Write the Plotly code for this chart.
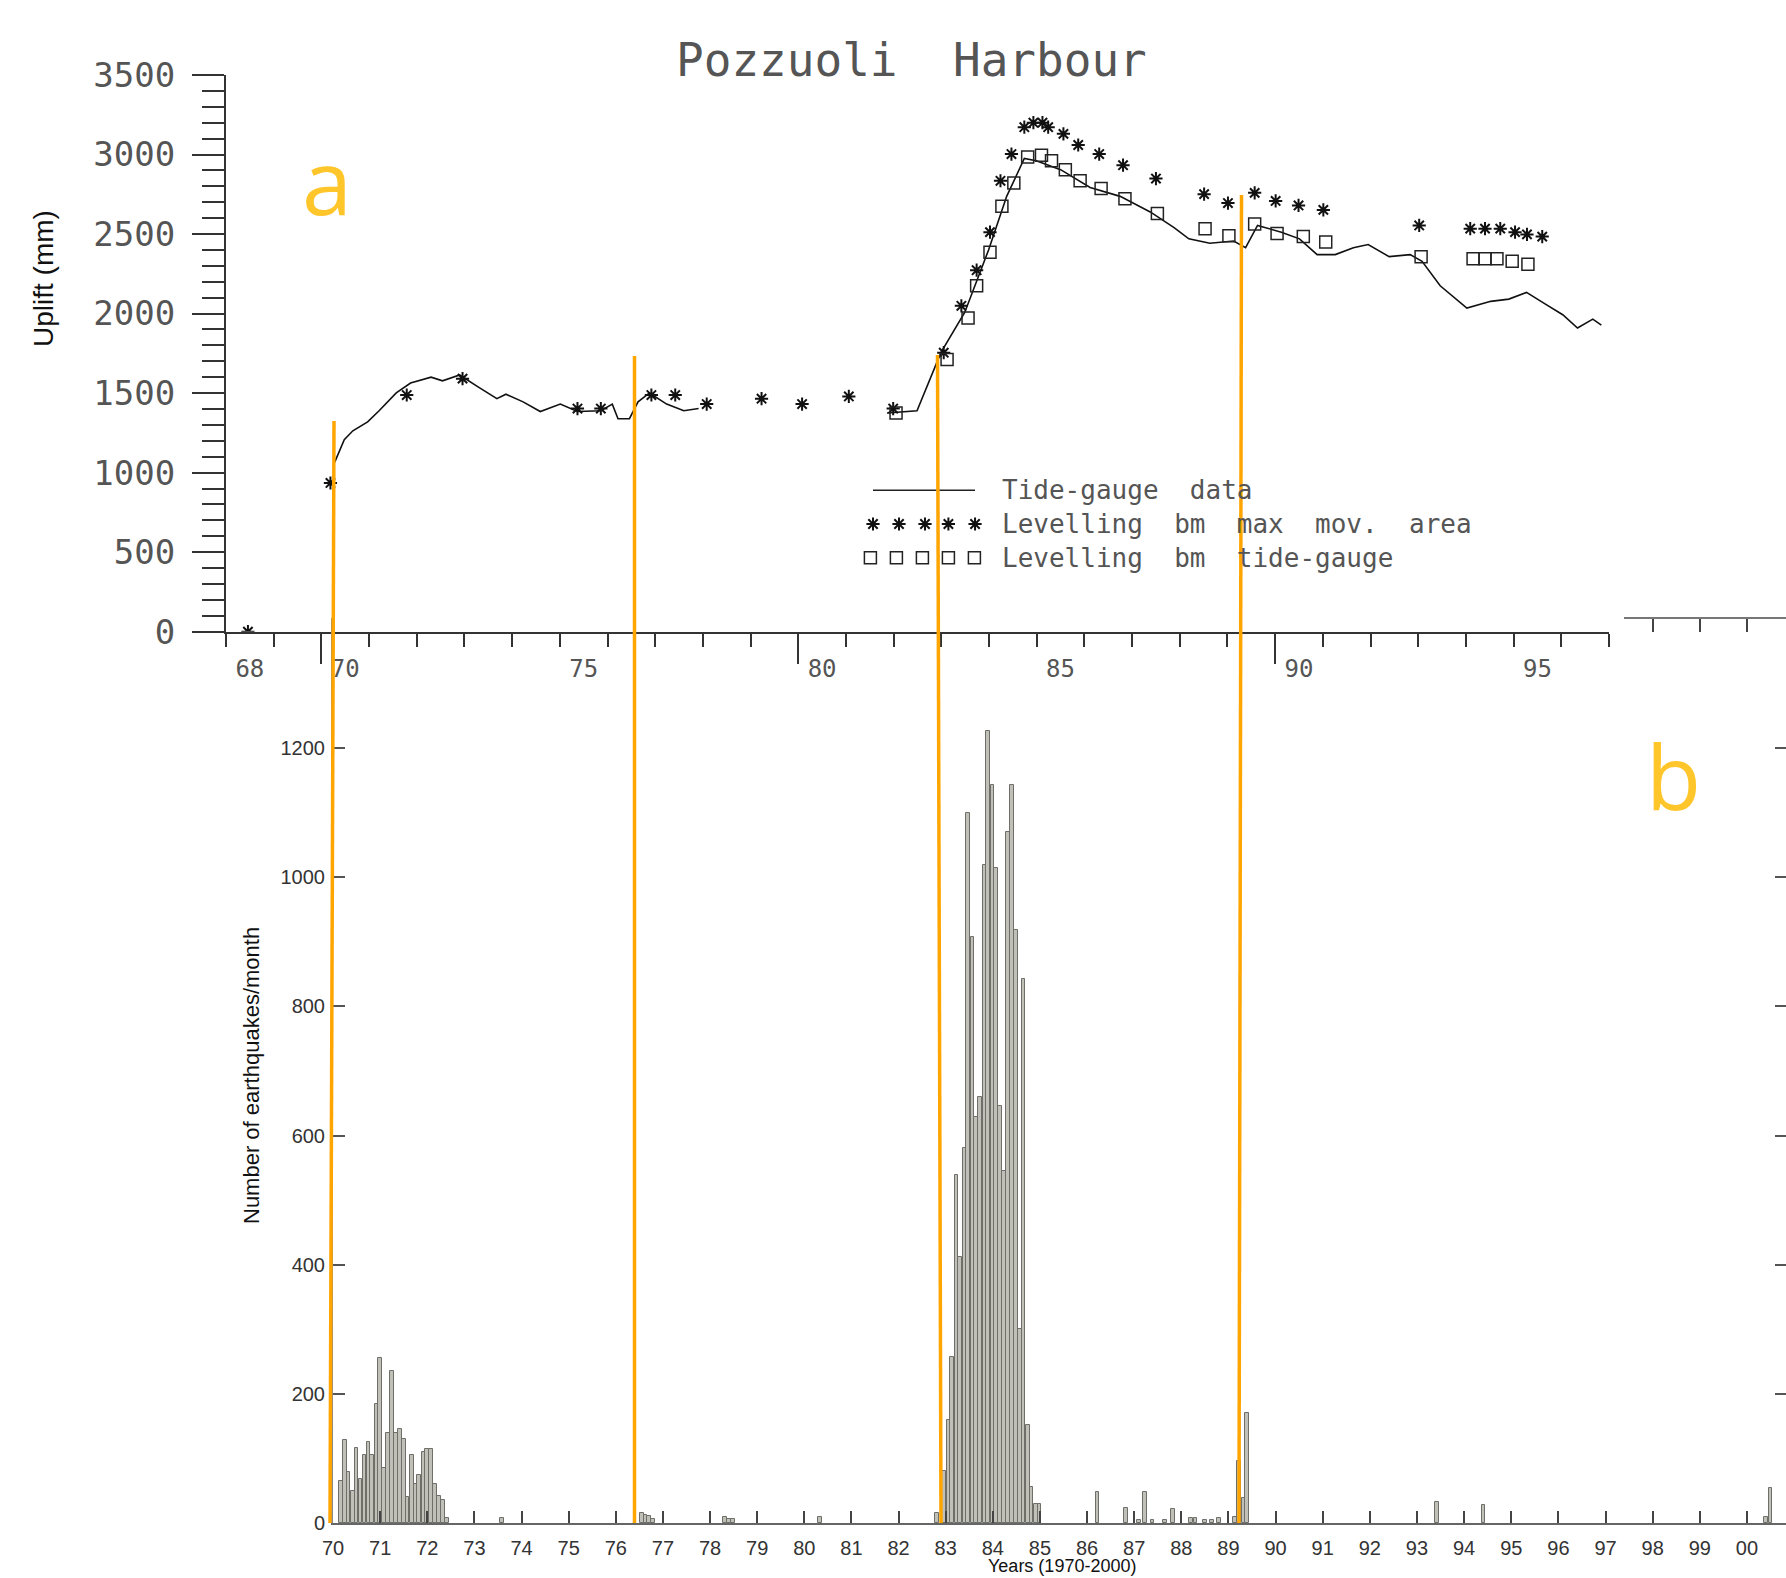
import plotly.graph_objects as go

W, H = 1786, 1578

# ---------------- Panel a : Pozzuoli Harbour uplift ----------------
tide_year = [70.28, 70.48, 70.66, 70.97, 71.21, 71.57, 71.87, 72.30, 72.54, 72.90, 73.26,
             73.68, 73.87, 74.23, 74.59, 75.01, 75.37, 75.86, 76.10, 76.22, 76.46, 76.64,
             76.88, 77.24, 77.60, 77.91, None,
             81.86, 82.49, 82.99, 83.49, 83.99, 84.37, 84.74, 84.99, 85.50, 86.12, 86.75,
             87.38, 87.88, 88.19, 88.63, 89.13, 89.38, 89.63, 90.13, 90.51, 90.88, 91.26,
             91.64, 91.95, 92.39, 92.83, 93.08, 93.46, 94.02, 94.52, 94.90, 95.27, 95.65,
             96.03, 96.34, 96.66, 96.84]
tide_mm = [1066, 1207, 1263, 1319, 1389, 1501, 1563, 1600, 1577, 1614, 1544,
           1465, 1493, 1445, 1384, 1431, 1384, 1389, 1431, 1339, 1339, 1445,
           1501, 1431, 1389, 1403, None,
           1375, 1389, 1754, 2007, 2400, 2737, 2975, 2961, 2905, 2793, 2737,
           2639, 2540, 2470, 2442, 2456, 2414, 2554, 2512, 2470, 2371, 2371,
           2414, 2434, 2358, 2371, 2329, 2175, 2035, 2077, 2091, 2133, 2063,
           1993, 1909, 1965, 1928]

star_year = [68.46, 70.19, 71.79, 72.96, 75.37, 75.86, 76.92, 77.42, 78.08, 79.23, 80.08,
             81.06, 81.99, 83.05, 83.42, 83.74, 84.02, 84.24, 84.47, 84.74, 84.93, 85.12,
             85.24, 85.56, 85.87, 86.31, 86.81, 87.50, 88.51, 89.01, 89.57, 90.01, 90.49,
             91.01, 93.02, 94.09, 94.40, 94.72, 95.03, 95.28, 95.60]
star_mm = [0, 935, 1488, 1591, 1403, 1403, 1488, 1488, 1431, 1465, 1431,
           1479, 1403, 1754, 2049, 2273, 2512, 2835, 3003, 3172, 3200, 3200,
           3172, 3130, 3060, 3003, 2933, 2849, 2751, 2695, 2759, 2708, 2680,
           2652, 2554, 2534, 2534, 2534, 2512, 2498, 2484]

square_year = [82.05, 83.12, 83.56, 83.74, 84.02, 84.27, 84.52, 84.81, 85.10, 85.31, 85.60,
               85.91, 86.35, 86.85, 87.53, 88.53, 89.03, 89.57, 90.04, 90.59, 91.06, 93.06,
               94.15, 94.40, 94.65, 94.97, 95.30]
square_mm = [1375, 1712, 1973, 2175, 2386, 2675, 2821, 2984, 2995, 2961, 2905,
             2835, 2787, 2722, 2630, 2534, 2490, 2563, 2504, 2484, 2450, 2358,
             2344, 2344, 2344, 2329, 2310]

top_tick_labels = ["68", "70", "75", "80", "85", "90", "95"]
top_tick_years = [68, 70, 75, 80, 85, 90, 95]

legend_texts = ["Tide-gauge  data", "Levelling  bm  max  mov.  area", "Levelling  bm  tide-gauge"]

# ---------------- Panel b : earthquakes per month ----------------
eq_year = [70.17, 70.25, 70.33, 70.42, 70.50, 70.58, 70.67, 70.75, 70.83, 70.92, 71.00,
           71.08, 71.17, 71.25, 71.33, 71.42, 71.50, 71.58, 71.67, 71.75, 71.83, 71.92,
           72.00, 72.08, 72.17, 72.25, 72.33, 72.42,
           73.58, 76.55, 76.63, 76.71, 76.79, 78.32, 78.40, 78.48, 80.33,
           82.81, 82.97, 83.06, 83.14, 83.23, 83.31, 83.40, 83.48, 83.57, 83.65, 83.73,
           83.82, 83.90, 83.99, 84.07, 84.15, 84.24, 84.32, 84.40, 84.49, 84.57, 84.65,
           84.74, 84.82, 84.91, 84.99,
           86.22, 86.83, 87.10, 87.23, 87.39, 87.66, 87.82, 88.20, 88.30, 88.50, 88.65,
           88.80, 89.14, 89.22, 89.32, 89.40,
           93.42, 94.41, 100.40, 100.50]
eq_count = [65, 128, 79, 49, 116, 68, 105, 125, 105, 185, 255,
            85, 140, 235, 140, 145, 130, 40, 105, 60, 75, 110,
            115, 115, 60, 42, 35, 8,
            8, 15, 13, 11, 6, 9, 6, 6, 10,
            15, 81, 159, 257, 539, 412, 581, 1099, 907, 629, 660,
            1019, 1227, 1143, 1014, 646, 545, 1070, 1143, 918, 300, 843,
            152, 56, 29, 29,
            48, 23, 5, 48, 4, 4, 22, 8, 8, 4, 4,
            8, 10, 96, 39, 170,
            33, 28, 10, 54]

bottom_tick_years = list(range(70, 101))
bottom_tick_labels = ["%02d" % (y % 100) for y in bottom_tick_years]
eq_ticks = [0, 200, 400, 600, 800, 1000, 1200]


def px(x):
    return x / W


def py(y):
    return 1 - y / H


# pixel geometry of the two panels
TOP_L, TOP_R, TOP_B, TOP_T = 226, 1609, 631.7, 75
BOT_L, BOT_B, BOT_T = 333, 1523, 618
BOT_PX_PER_YEAR = 47.13
BOT_PX_PER_UNIT = 0.6458
bot_xmax = 70 + (W - BOT_L) / BOT_PX_PER_YEAR
bot_ymax = (BOT_B - BOT_T) / BOT_PX_PER_UNIT

# legend frame (pixels)
LEG_L, LEG_R, LEG_TOP, LEG_BOT = 860, 990, 478, 570
LEG_FONT = 26
leg_rows_px = [524 - 1.3 * LEG_FONT, 524, 524 + 1.3 * LEG_FONT]
leg_rows = [(LEG_BOT - r) / (LEG_BOT - LEG_TOP) for r in leg_rows_px]

mono = "DejaVu Sans Mono"
sans = "Liberation Sans, Arial, sans-serif"

fig = go.Figure()

# panel a traces
fig.add_trace(go.Scatter(x=tide_year, y=tide_mm, mode="lines", connectgaps=False,
                         line=dict(color="#111111", width=1.6), xaxis="x", yaxis="y",
                         showlegend=False, hoverinfo="skip"))
fig.add_trace(go.Scatter(x=star_year, y=star_mm, mode="markers",
                         marker=dict(symbol="asterisk-open", size=11, color="#111111",
                                     line=dict(color="#111111", width=2)),
                         xaxis="x", yaxis="y", showlegend=False))
fig.add_trace(go.Scatter(x=square_year, y=square_mm, mode="markers",
                         marker=dict(symbol="square-open", size=12, color="#222222",
                                     line=dict(color="#222222", width=1.5)),
                         xaxis="x", yaxis="y", showlegend=False))
# label axis overlay
fig.add_trace(go.Scatter(x=[], y=[], xaxis="x3", yaxis="y", showlegend=False))

# legend glyphs (drawn in a small hidden frame)
fig.add_trace(go.Scatter(x=[0.10, 0.885], y=[leg_rows[0]] * 2, mode="lines",
                         line=dict(color="#222222", width=1.6), xaxis="x4", yaxis="y4",
                         showlegend=False, hoverinfo="skip"))
fig.add_trace(go.Scatter(x=[0.10, 0.30, 0.50, 0.68, 0.885], y=[leg_rows[1]] * 5,
                         mode="markers",
                         marker=dict(symbol="asterisk-open", size=11, color="#111111",
                                     line=dict(color="#111111", width=2)),
                         xaxis="x4", yaxis="y4", showlegend=False, hoverinfo="skip"))
fig.add_trace(go.Scatter(x=[0.08, 0.28, 0.48, 0.68, 0.88], y=[leg_rows[2]] * 5,
                         mode="markers",
                         marker=dict(symbol="square-open", size=12, color="#222222",
                                     line=dict(color="#222222", width=1.5)),
                         xaxis="x4", yaxis="y4", showlegend=False, hoverinfo="skip"))

# panel b traces
fig.add_trace(go.Bar(x=eq_year, y=eq_count, width=0.078,
                     marker=dict(color="#c0c0b8", line=dict(color="#6f6f6a", width=1)),
                     xaxis="x2", yaxis="y2", showlegend=False))
fig.add_trace(go.Scatter(x=[], y=[], xaxis="x2", yaxis="y5", showlegend=False))
fig.add_trace(go.Scatter(x=[], y=[], xaxis="x5", yaxis="y2", showlegend=False))

axis_black = "#333333"

fig.update_layout(
    width=W, height=H,
    margin=dict(l=0, r=0, t=0, b=0, pad=0, autoexpand=False),
    paper_bgcolor="white", plot_bgcolor="rgba(0,0,0,0)",
    bargap=0,
    xaxis=dict(domain=[px(TOP_L), px(TOP_R)], range=[68, 97], anchor="y", automargin=False,
               tickmode="array", tickvals=[70, 80, 90], ticks="outside", ticklen=30,
               tickwidth=2, tickcolor=axis_black, showticklabels=False,
               showline=True, linecolor=axis_black, linewidth=2,
               showgrid=False, zeroline=False,
               minor=dict(tickmode="linear", tick0=68, dtick=1, ticks="outside",
                          ticklen=13, tickwidth=2, tickcolor=axis_black, showgrid=False)),
    xaxis3=dict(overlaying="x", anchor="y", side="bottom", range=[68, 97], automargin=False,
                tickmode="array", tickvals=[v + 0.5 for v in top_tick_years],
                ticktext=top_tick_labels, ticks="", showline=False, showgrid=False,
                zeroline=False, ticklabelstandoff=20,
                tickfont=dict(family=mono, size=24, color="#555555")),
    yaxis=dict(domain=[py(TOP_B), py(TOP_T)], range=[0, 3500], anchor="x", automargin=False,
               tickmode="linear", tick0=0, dtick=500, ticks="outside", ticklen=32,
               tickwidth=2, tickcolor=axis_black, showline=True, linecolor=axis_black,
               linewidth=2, showgrid=False, zeroline=False, ticklabelstandoff=10,
               tickfont=dict(family=mono, size=34, color="#555555"),
               minor=dict(tickmode="linear", tick0=0, dtick=100, ticks="outside",
                          ticklen=22, tickwidth=2, tickcolor=axis_black, showgrid=False)),
    xaxis4=dict(domain=[px(LEG_L), px(LEG_R)], range=[0, 1], visible=False, anchor="y4",
                automargin=False),
    yaxis4=dict(domain=[py(LEG_BOT), py(LEG_TOP)], range=[0, 1], visible=False, anchor="x4",
                automargin=False),
    xaxis2=dict(domain=[px(BOT_L), 1], range=[70, bot_xmax], anchor="y2", automargin=False,
                tickmode="array", tickvals=bottom_tick_years, ticktext=bottom_tick_labels,
                ticks="inside", ticklen=12, tickwidth=2, tickcolor="#444444",
                showline=True, linecolor="#666666", linewidth=2, showgrid=False,
                zeroline=False, ticklabelstandoff=6,
                tickfont=dict(family=sans, size=20, color="#333333")),
    yaxis2=dict(domain=[py(BOT_B), py(BOT_T)], range=[0, bot_ymax], anchor="x2",
                automargin=False,
                tickmode="array", tickvals=eq_ticks, ticks="inside", ticklen=12,
                tickwidth=2, tickcolor="#555555", showline=True, linecolor="#888888",
                linewidth=2, showgrid=False, zeroline=False, ticklabelstandoff=2,
                tickfont=dict(family=sans, size=20, color="#333333")),
    yaxis5=dict(overlaying="y2", anchor="x2", side="right", range=[0, bot_ymax],
                automargin=False,
                tickmode="array", tickvals=eq_ticks, ticks="inside", ticklen=11,
                tickwidth=2, tickcolor="#555555", showline=False, showgrid=False,
                zeroline=False, showticklabels=False),
    xaxis5=dict(domain=[px(1624), 1], range=[70 + (1624 - BOT_L) / BOT_PX_PER_YEAR, bot_xmax],
                anchor="free", position=py(BOT_T), side="top", tickmode="array",
                automargin=False,
                tickvals=[98, 99, 100], ticks="inside", ticklen=13, tickwidth=2,
                tickcolor="#444444", showline=True, linecolor="#777777", linewidth=2,
                showticklabels=False, showgrid=False, zeroline=False),
)

ann = []
ann.append(dict(text="Pozzuoli  Harbour", x=px(911), y=py(60), xref="paper", yref="paper",
                showarrow=False, xanchor="center", yanchor="middle",
                font=dict(family=mono, size=46, color="#555555")))
ann.append(dict(text="Uplift (mm)", x=px(43), y=py(279), xref="paper", yref="paper",
                showarrow=False, textangle=-90, xanchor="center", yanchor="middle",
                font=dict(family=sans, size=28, color="#111111")))
ann.append(dict(text="Number of earthquakes/month", x=px(251), y=py(1075), xref="paper",
                yref="paper", showarrow=False, textangle=-90, xanchor="center",
                yanchor="middle", font=dict(family=sans, size=22, color="#111111")))
ann.append(dict(text="Years (1970-2000)", x=px(1062), y=py(1578), xref="paper", yref="paper",
                showarrow=False, xanchor="center", yanchor="bottom",
                font=dict(family=sans, size=18, color="#111111")))
ann.append(dict(text="a", x=px(327), y=py(180), xref="paper", yref="paper", showarrow=False,
                xanchor="center", yanchor="middle",
                font=dict(family="Open Sans", size=90, color="#FFC62B")))
ann.append(dict(text="b", x=px(1673), y=py(775), xref="paper", yref="paper", showarrow=False,
                xanchor="center", yanchor="middle",
                font=dict(family="Open Sans", size=90, color="#FFC62B")))
ann.append(dict(text="<br>".join(legend_texts), x=px(1000), y=py(524), xref="paper",
                yref="paper", showarrow=False, xanchor="left", yanchor="middle",
                align="left", font=dict(family=mono, size=LEG_FONT, color="#555555")))

# orange event markers spanning both panels (pixel endpoints)
event_top = [(334, 421), (634.5, 356), (937.5, 355), (1241.5, 195)]
event_bottom = [(330, 1523), (634.5, 1523), (941, 1523), (1239, 1523)]
shapes = []
for (xt, yt), (xb, yb) in zip(event_top, event_bottom):
    shapes.append(dict(type="line", xref="paper", yref="paper", x0=px(xt), y0=py(yt),
                       x1=px(xb), y1=py(yb), line=dict(color="#FFA500", width=3.5),
                       layer="above"))

fig.update_layout(annotations=ann, shapes=shapes)
fig.write_html("out.html", config={"displayModeBar": False},
               post_script="document.body.style.margin='0';document.body.style.overflow='hidden';")
